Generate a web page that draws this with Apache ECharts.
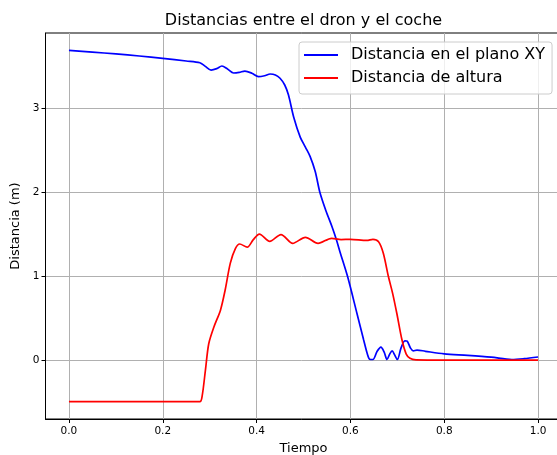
<!DOCTYPE html>
<html>
<head>
<meta charset="utf-8">
<script src="https://cdn.jsdelivr.net/npm/echarts@6/dist/echarts.min.js"></script>
<style>
  html, body { margin: 0; padding: 0; background: #fff; }
  #chart { width: 557px; height: 455px; }
</style>
</head>
<body>
<div id="chart"></div>
<script>
// Horizontal distance between drone and car (XY plane)
const xyTime = [0.000, 0.050, 0.100, 0.150, 0.200, 0.250, 0.279, 0.290, 0.303, 0.315, 0.326, 0.338,
  0.351, 0.363, 0.375, 0.390, 0.404, 0.417, 0.429, 0.440, 0.450, 0.460, 0.468, 0.479, 0.493, 0.504,
  0.514, 0.525, 0.535, 0.548, 0.561, 0.570, 0.578, 0.594, 0.614, 0.628, 0.636, 0.641, 0.648, 0.657,
  0.665, 0.672, 0.678, 0.684, 0.689, 0.694, 0.700, 0.708, 0.716, 0.721, 0.728, 0.734, 0.742, 0.760,
  0.800, 0.850, 0.900, 0.944, 0.970, 1.000];
const xyDist = [3.693, 3.672, 3.650, 3.625, 3.598, 3.566, 3.545, 3.505, 3.458, 3.475, 3.506, 3.470,
  3.423, 3.430, 3.446, 3.420, 3.379, 3.390, 3.411, 3.400, 3.360, 3.280, 3.160, 2.900, 2.660, 2.540,
  2.430, 2.250, 2.000, 1.780, 1.590, 1.440, 1.290, 1.000, 0.560, 0.250, 0.080, 0.015, 0.012, 0.110,
  0.160, 0.100, 0.012, 0.080, 0.115, 0.070, 0.012, 0.150, 0.235, 0.230, 0.150, 0.115, 0.125, 0.110,
  0.080, 0.062, 0.040, 0.012, 0.022, 0.042];

// Height difference between drone and car
const zTime = [0.000, 0.279, 0.284, 0.291, 0.298, 0.309, 0.323, 0.333, 0.344, 0.355, 0.364, 0.380,
  0.393, 0.406, 0.428, 0.452, 0.477, 0.504, 0.531, 0.560, 0.580, 0.600, 0.635, 0.648, 0.660, 0.670,
  0.681, 0.690, 0.699, 0.710, 0.719, 0.727, 0.740, 0.800, 1.000];
const zDist = [-0.49, -0.49, -0.42, -0.11, 0.20, 0.40, 0.60, 0.84, 1.16, 1.335, 1.387, 1.350,
  1.440, 1.505, 1.418, 1.500, 1.395, 1.467, 1.395, 1.455, 1.440, 1.443, 1.430, 1.443, 1.415, 1.280,
  1.000, 0.800, 0.560, 0.244, 0.077, 0.026, 0.008, 0.005, 0.005];

const xTicks = [0.0, 0.2, 0.4, 0.6, 0.8, 1.0];
const yTicks = [0, 1, 2, 3];

const seriesNames = ['Distancia en el plano XY', 'Distancia de altura'];

const pairs = (xs, ys) => xs.map((x, i) => [x, ys[i]]);
const FONT = 'DejaVu Sans';

const chart = echarts.init(document.getElementById('chart'), null, { renderer: 'canvas' });

chart.setOption({
  backgroundColor: '#ffffff',
  animation: false,
  textStyle: { fontFamily: FONT, color: '#000' },
  title: {
    text: 'Distancias entre el dron y el coche',
    left: 303.5,
    textAlign: 'center',
    top: 13,
    padding: 0,
    textStyle: { fontFamily: FONT, fontSize: 16, fontWeight: 'normal', color: '#000' }
  },
  legend: {
    orient: 'vertical',
    left: 299,
    top: 42,
    padding: [5, 7, 8, 5],
    itemGap: 7,
    itemWidth: 34,
    itemHeight: 2,
    icon: 'rect',
    backgroundColor: 'rgba(255,255,255,0.8)',
    borderColor: '#cccccc',
    borderWidth: 1,
    borderRadius: 3,
    textStyle: { fontFamily: FONT, fontSize: 16, color: '#000', padding: [0, 0, 0, 8] },
    data: seriesNames
  },
  grid: {
    show: true,
    left: 45.5,
    top: 33,
    width: 516,
    height: 386,
    outerBoundsMode: 'none',
    containLabel: false,
    borderColor: '#000',
    borderWidth: 1,
    backgroundColor: 'transparent'
  },
  xAxis: {
    type: 'value',
    min: -0.05,
    max: 1.05,
    name: 'Tiempo',
    nameLocation: 'middle',
    nameGap: 20,
    nameTextStyle: { fontFamily: FONT, fontSize: 13, color: '#000' },
    axisLine: { show: true, onZero: false, lineStyle: { color: '#000', width: 1 } },
    axisTick: { show: true, inside: false, length: 4, customValues: xTicks, lineStyle: { color: '#000', width: 1 } },
    axisLabel: {
      customValues: xTicks,
      margin: 7,
      fontFamily: FONT,
      fontSize: 10.5,
      color: '#000',
      formatter: v => v.toFixed(1)
    },
    splitLine: { show: true, lineStyle: { color: '#b0b0b0', width: 1 } }
  },
  yAxis: {
    type: 'value',
    min: -0.696,
    max: 3.899,
    name: 'Distancia (m)',
    nameLocation: 'middle',
    nameGap: 21,
    nameTextStyle: { fontFamily: FONT, fontSize: 13, color: '#000' },
    axisLine: { show: true, onZero: false, lineStyle: { color: '#000', width: 1 } },
    axisTick: { show: true, inside: false, length: 4, customValues: yTicks, lineStyle: { color: '#000', width: 1 } },
    axisLabel: {
      customValues: yTicks,
      margin: 6,
      fontFamily: FONT,
      fontSize: 10.5,
      color: '#000',
      formatter: v => String(v)
    },
    splitLine: { show: true, lineStyle: { color: '#b0b0b0', width: 1 } }
  },
  series: [
    {
      name: seriesNames[0],
      type: 'line',
      data: pairs(xyTime, xyDist),
      smooth: 0.3,
      showSymbol: false,
      symbol: 'none',
      color: '#0000ff',
      lineStyle: { color: '#0000ff', width: 1.7 },
      z: 3
    },
    {
      name: seriesNames[1],
      type: 'line',
      data: pairs(zTime, zDist),
      smooth: 0.3,
      showSymbol: false,
      symbol: 'none',
      color: '#ff0000',
      lineStyle: { color: '#ff0000', width: 1.7 },
      z: 4
    }
  ]
});
</script>
</body>
</html>
